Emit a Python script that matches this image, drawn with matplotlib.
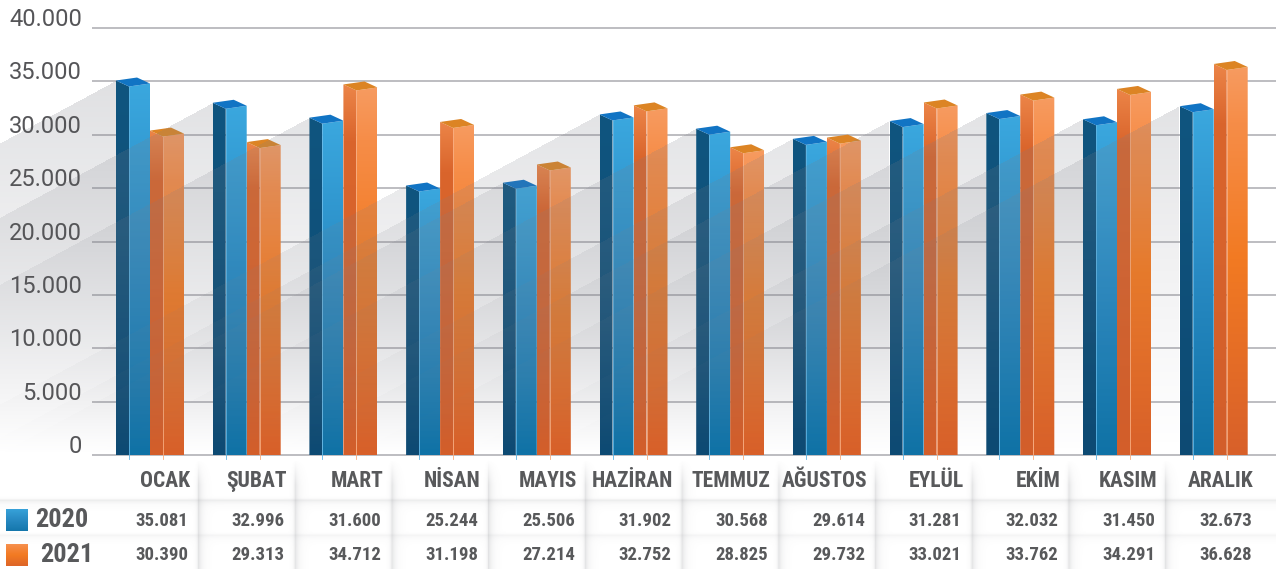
import matplotlib
matplotlib.use("Agg")
import matplotlib.pyplot as plt
import numpy as np
from matplotlib import font_manager
from matplotlib.colors import LinearSegmentedColormap, to_rgb
from matplotlib.patches import Polygon

months = ["OCAK", "ŞUBAT", "MART", "NİSAN", "MAYIS", "HAZİRAN",
          "TEMMUZ", "AĞUSTOS", "EYLÜL", "EKİM", "KASIM", "ARALIK"]
sales_2020 = [35081, 32996, 31600, 25244, 25506, 31902,
              30568, 29614, 31281, 32032, 31450, 32673]
sales_2021 = [30390, 29313, 34712, 31198, 27214, 32752,
              28825, 29732, 33021, 33762, 34291, 36628]
years = ["2020", "2021"]
yticks = [0, 5000, 10000, 15000, 20000, 25000, 30000, 35000, 40000]
ytick_labels = ["0", "5.000", "10.000", "15.000", "20.000",
                "25.000", "30.000", "35.000", "40.000"]

W, H = 1276, 569
STEP = 96.7               # pixels between month groups
U = 1 / STEP              # one pixel in x units
VP = 40000 / 427          # one pixel in y units
X0, X1 = -150 / STEP, (W - 150) / STEP
Y0, Y1 = -15 * VP, 455 * VP
SLOPE = 0.54 * STEP * VP  # shadow slope, value per x unit

TXT = "#58595b"


def narrow_bold():
    # a condensed bold face if one is installed, else Roboto bold a bit smaller
    for want in ["Liberation Sans Narrow", "Roboto Condensed", "Open Sans Condensed"]:
        for f in font_manager.fontManager.ttflist:
            if f.name == want and f.weight in (700, "bold") and f.style == "normal":
                return {"fontproperties": font_manager.FontProperties(fname=f.fname)}, 1.0
    return {"family": ["Roboto", "DejaVu Sans"], "fontweight": "bold"}, 0.84


NARROW, SCALE = narrow_bold()


def px2u(p):
    return (p - 150) / STEP


def fmt(v):
    return f"{v:,}".replace(",", ".")


def label(axis, x, y, s, size, **kw):
    t = axis.text(x, y, s, color=TXT, zorder=3, **NARROW, **kw)
    t.set_fontsize(size * SCALE)
    return t


cm_blue_front = LinearSegmentedColormap.from_list(
    "bf", [(0, "#1072a6"), (0.5, "#2789c2"), (1, "#3ba8df")])
cm_blue_side = LinearSegmentedColormap.from_list(
    "bs", [(0, "#0d4a73"), (1, "#10557f")])
cm_orng_front = LinearSegmentedColormap.from_list(
    "of", [(0, "#d8602a"), (0.5, "#f27a22"), (0.85, "#f68d48"), (1, "#f79c62")])
cm_orng_side = LinearSegmentedColormap.from_list(
    "os", [(0, "#d35e2a"), (0.85, "#da652c"), (1, "#ec8548")])
grad = np.linspace(0, 1, 256).reshape(-1, 1)

fig = plt.figure(figsize=(W / 100, H / 100), dpi=100)
fig.patch.set_facecolor("white")

tb = fig.add_axes([0, 0, 1, 114 / H])
ax = fig.add_axes([0, 1 - 470 / H, 1, 470 / H])
ax.patch.set_alpha(0)
tb.patch.set_alpha(0)


def face(pts, cmap, top):
    poly = Polygon(pts, closed=True, facecolor="none", edgecolor="none")
    ax.add_patch(poly)
    xs = [p[0] for p in pts]
    im = ax.imshow(grad, cmap=cmap, extent=(min(xs), max(xs), 0, top),
                   origin="lower", aspect="auto", zorder=2,
                   interpolation="bilinear")
    im.set_clip_path(poly)


def bar3d(xl, v, front_cm, side_cm, top_color, line_color):
    xf, xr = xl + 13 * U, xl + 34 * U
    face([(xl, v), (xf, v - 6 * VP), (xf, -4 * VP), (xl, 0)], side_cm, v)
    face([(xf, v - 6 * VP), (xr, v - 3 * VP), (xr, 0), (xf, -4 * VP)], front_cm, v)
    ax.add_patch(Polygon([(xl, v), (xf, v - 6 * VP), (xr, v - 3 * VP),
                          (xl + (xr - xf), v + 3 * VP)],
                         closed=True, facecolor=top_color, edgecolor="none", zorder=2))
    ax.plot([xf, xf], [-4 * VP, v - 6 * VP], color=line_color, lw=0.6, zorder=2)


# grid
ax.hlines(yticks, px2u(92), X1, colors="#b8b8bc", lw=1.3, zorder=1)
for t, lab in zip(yticks, ytick_labels):
    ax.text(px2u(82), t + 2 * VP, lab, ha="right", va="baseline",
            fontsize=17, family=["Roboto", "DejaVu Sans"], color="#555558", zorder=5)

# bars
for i in range(len(months)):
    bar3d(i - 34 * U, sales_2020[i], cm_blue_front, cm_blue_side, "#1174c4", "#5fb6e6")
    bar3d(i, sales_2021[i], cm_orng_front, cm_orng_side, "#dc8424", "#f9ad80")

# diagonal shadows cast by each group
xs = np.linspace(X0, X1, W)
ys = np.linspace(Y0, Y1, 470)
X, Y = np.meshgrid(xs, ys)
keep = np.ones_like(X)
fade = 0.28 * np.clip(Y / 40000, 0, 1) ** 1.2
for i, v in enumerate(sales_2020):
    xl = i - 34 * U
    inside = (X < xl) & (Y > 0) & (Y < v - (xl - X) * SLOPE)
    keep *= 1 - fade * inside
img = np.zeros((470, W, 4))
img[..., :3] = to_rgb("#7c7f88")
img[..., 3] = 1 - keep
ax.imshow(img, extent=(X0, X1, Y0, Y1), origin="lower", aspect="auto",
          zorder=3, interpolation="bilinear")

ax.set_xlim(X0, X1)
ax.set_ylim(Y0, Y1)
ax.axis("off")

# table
px = np.arange(W) + 0.5
py = 455 + np.arange(114) + 0.5
PX, PY = np.meshgrid(px, py)
keep = np.ones_like(PX)
ramp = np.clip((PY - 460) / 25, 0, 1)
for i in range(len(months) - 1):
    d = PX - (i + 0.5 - X0) * STEP
    a = np.where(d < 0, 0.16 * np.exp(d / 1.5), 0.2 * np.exp(-d / 3.5))
    keep *= 1 - a * ramp
for hy, s in [(500, 0.14), (535, 0.08)]:
    d = PY - hy
    a = np.where(d < 0, s * np.exp(d / 1.0), s * np.exp(-d / 3.0))
    keep *= 1 - a
timg = np.zeros((114, W, 4))
timg[..., :3] = to_rgb("#6e7076")
timg[..., 3] = 1 - keep
tb.imshow(timg, extent=(X0, X1, H, 455), origin="upper", aspect="auto",
          interpolation="bilinear", zorder=1)

for i, m in enumerate(months):
    label(tb, i + 40 * U, 481, m, 15.5, ha="right", va="center")
    label(tb, i + 38 * U, 521, fmt(sales_2020[i]), 13.5, ha="right", va="center")
    label(tb, i + 38 * U, 555, fmt(sales_2021[i]), 13.5, ha="right", va="center")

for row, (yr, cm, ytop, xtxt) in enumerate(zip(
        years, [cm_blue_front, cm_orng_front], [509, 544], [35, 40])):
    tb.imshow(grad[::-1] * 0.8 + 0.1, cmap=cm, vmin=0, vmax=1,
              extent=(px2u(6), px2u(28), ytop + 22, ytop),
              origin="upper", aspect="auto", zorder=2)
    label(tb, px2u(xtxt), ytop + 11, yr, 19, ha="left", va="center")

tb.set_xlim(X0, X1)
tb.set_ylim(H, 455)
tb.axis("off")

fig.savefig("out.png", dpi=100)
